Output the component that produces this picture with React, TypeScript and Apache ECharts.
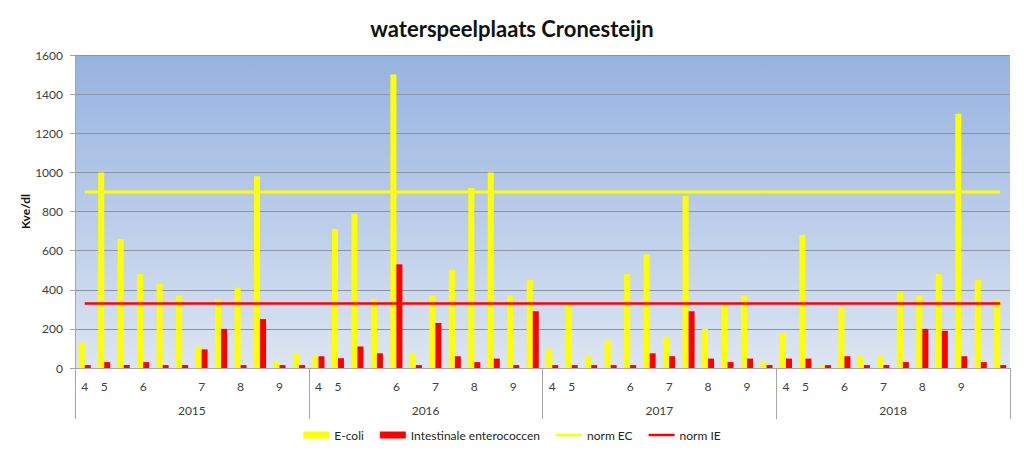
import React, { useEffect, useRef } from "react";
import * as echarts from "echarts";

const years = ["2015", "2016", "2017", "2018"];

const monthLabels = [
  "4", "5", "", "6", "", "", "7", "", "8", "", "9", "",
  "4", "5", "", "", "6", "", "7", "", "8", "", "9", "",
  "4", "5", "", "", "6", "", "7", "", "8", "", "9", "",
  "4", "5", "", "6", "", "7", "", "8", "", "9", "", "",
];

const eColi = [
  130, 1000, 660, 480, 430, 370, 110, 350, 410, 980, 30, 75,
  60, 710, 790, 350, 1500, 75, 370, 500, 920, 1000, 370, 450,
  95, 330, 60, 140, 480, 580, 160, 880, 200, 330, 370, 30,
  180, 680, 10, 310, 60, 60, 390, 370, 480, 1300, 450, 350,
];

const enterococcen = [
  15, 30, 15, 30, 15, 15, 95, 200, 15, 250, 15, 15,
  60, 50, 110, 75, 530, 15, 230, 60, 30, 48, 15, 290,
  15, 15, 15, 15, 15, 75, 60, 290, 48, 30, 48, 15,
  48, 48, 15, 60, 15, 15, 30, 200, 190, 60, 30, 15,
];

const NORM_EC = 900;
const NORM_IE = 330;

const yTicks = { min: 0, max: 1600, interval: 200 };

const FONT = "Lato, 'Liberation Sans', sans-serif";
const LINE_ICON = "path://M0,0L26,0L26,2.5L0,2.5Z";

export default function App() {
  const ref = useRef<HTMLDivElement>(null);

  useEffect(() => {
    if (!ref.current) return;
    const chart = echarts.init(ref.current, null, { renderer: "svg" });
    const categories = monthLabels.map((_, i) => "c" + i);
    const normEC = categories.map(() => NORM_EC);
    const normIE = categories.map(() => NORM_IE);

    chart.setOption({
      animation: false,
      textStyle: { fontFamily: FONT },
      title: {
        text: "waterspeelplaats Cronesteijn",
        left: "center",
        top: 12,
        textStyle: { fontFamily: FONT, fontSize: 22, fontWeight: "bold", color: "#111" },
      },
      legend: {
        bottom: 11,
        left: "center",
        itemWidth: 26,
        itemHeight: 7,
        itemGap: 16,
        symbolKeepAspect: true,
        textStyle: { fontFamily: FONT, fontSize: 12, color: "#262626" },
        data: [
          { name: "E-coli", icon: "rect" },
          { name: "Intestinale enterococcen", icon: "rect" },
          { name: "norm EC", icon: LINE_ICON },
          { name: "norm IE", icon: LINE_ICON },
        ],
      },
      grid: {
        left: 75,
        right: 14,
        top: 55,
        bottom: 89,
        show: true,
        borderWidth: 0,
        backgroundColor: new echarts.graphic.LinearGradient(0, 0, 0, 1, [
          { offset: 0, color: "#95B3E0" },
          { offset: 1, color: "#DDE5F2" },
        ]),
      },
      xAxis: [
        {
          type: "category",
          data: categories,
          boundaryGap: true,
          axisLine: { show: true, lineStyle: { color: "#A6A6A6", width: 1 } },
          axisTick: { show: false },
          axisLabel: {
            interval: 0,
            margin: 12,
            fontSize: 12,
            color: "#404040",
            fontFamily: FONT,
            formatter: (_v: string, idx: number) => monthLabels[idx],
          },
        },
        {
          type: "category",
          data: years,
          position: "bottom",
          boundaryGap: true,
          axisLine: { show: false },
          axisTick: { show: true, length: 51, lineStyle: { color: "#A6A6A6" } },
          axisLabel: { margin: 36, fontSize: 12, color: "#404040", fontFamily: FONT },
        },
      ],
      yAxis: {
        type: "value",
        min: yTicks.min,
        max: yTicks.max,
        interval: yTicks.interval,
        name: "Kve/dl",
        nameLocation: "middle",
        nameGap: 44,
        nameMoveOverlap: false,
        nameTextStyle: { fontFamily: FONT, fontSize: 12, fontWeight: "bold", color: "#111" },
        axisLine: { show: true, lineStyle: { color: "#A6A6A6" } },
        axisTick: { show: true, length: 5, lineStyle: { color: "#A6A6A6" } },
        axisLabel: {
          fontSize: 12,
          color: "#404040",
          margin: 12,
          fontFamily: FONT,
          formatter: (v: number) => String(v),
        },
        splitLine: { show: true, lineStyle: { color: "#8A94A6", width: 1 } },
      },
      series: [
        {
          name: "E-coli",
          type: "bar",
          data: eColi,
          barWidth: 6,
          barGap: "0%",
          itemStyle: { color: "#FFFF00" },
        },
        {
          name: "Intestinale enterococcen",
          type: "bar",
          data: enterococcen,
          barWidth: 6,
          barGap: "0%",
          itemStyle: { color: "#FF0000" },
        },
        {
          name: "norm EC",
          type: "line",
          data: normEC,
          symbol: "none",
          lineStyle: { color: "#FFFF00", width: 3 },
          itemStyle: { color: "#FFFF00" },
          z: 5,
        },
        {
          name: "norm IE",
          type: "line",
          data: normIE,
          symbol: "none",
          lineStyle: { color: "#FF0000", width: 2.5 },
          itemStyle: { color: "#FF0000" },
          z: 5,
        },
      ],
    });
    return () => chart.dispose();
  }, []);

  return (
    <div
      ref={ref}
      style={{ position: "fixed", left: 0, top: 0, width: 1024, height: 457, background: "#fff" }}
    />
  );
}
